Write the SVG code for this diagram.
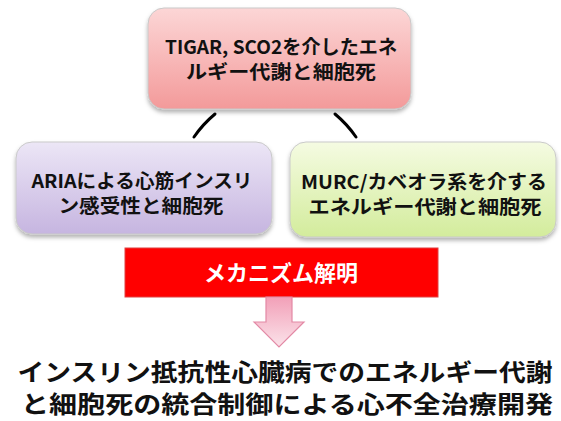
<svg xmlns="http://www.w3.org/2000/svg" width="561" height="421" viewBox="0 0 561 421">
<style>
.t{font-family:"Noto Sans CJK JP","Noto Sans",sans-serif;font-weight:bold;fill:#111;text-anchor:middle}
.bx{stroke:#c9c9c9;stroke-width:1}
.c{fill:none;stroke:#000;stroke-width:3;stroke-linecap:round}
</style>
<defs>
<linearGradient id="gp" x1="0" y1="0" x2="0" y2="1"><stop offset="0" stop-color="#fcd6d6"/><stop offset="1" stop-color="#f39a9a"/></linearGradient>
<linearGradient id="gv" x1="0" y1="0" x2="0" y2="1"><stop offset="0" stop-color="#ece6f6"/><stop offset="1" stop-color="#c6b5e0"/></linearGradient>
<linearGradient id="gg" x1="0" y1="0" x2="0" y2="1"><stop offset="0" stop-color="#f5fbe2"/><stop offset="1" stop-color="#d3ec9c"/></linearGradient>
<linearGradient id="ga" x1="0" y1="0" x2="0" y2="1"><stop offset="0" stop-color="#f2a0b8"/><stop offset="1" stop-color="#fbe3ea"/></linearGradient>
<filter id="sh" x="-10%" y="-10%" width="120%" height="130%"><feDropShadow dx="0" dy="3" stdDeviation="2" flood-color="#000" flood-opacity="0.3"/></filter>
</defs>
<g id="connectors">
<path class="c" d="M215,114 Q203,124 194,137"/>
<path class="c" d="M335,114 Q347,124 356,137"/>
</g>
<g id="top">
<rect class="bx" x="148" y="8" width="263" height="101" rx="16" fill="url(#gp)" filter="url(#sh)"/>
<text class="t" x="281" y="54" font-size="19" textLength="232" lengthAdjust="spacingAndGlyphs">TIGAR, SCO2を介したエネ</text>
<text class="t" x="281" y="79" font-size="19" textLength="190" lengthAdjust="spacingAndGlyphs">ルギー代謝と細胞死</text>
</g>
<g id="left">
<rect class="bx" x="16" y="142" width="256" height="92" rx="16" fill="url(#gv)" filter="url(#sh)"/>
<text class="t" x="142" y="188" font-size="19" textLength="221" lengthAdjust="spacingAndGlyphs">ARIAによる心筋インスリ</text>
<text class="t" x="141" y="213" font-size="19" textLength="165" lengthAdjust="spacingAndGlyphs">ン感受性と細胞死</text>
</g>
<g id="right">
<rect class="bx" x="290" y="142" width="266" height="95" rx="16" fill="url(#gg)" filter="url(#sh)"/>
<text class="t" x="424" y="189" font-size="19" textLength="246" lengthAdjust="spacingAndGlyphs">MURC/カベオラ系を介する</text>
<text class="t" x="425" y="214" font-size="19" textLength="233" lengthAdjust="spacingAndGlyphs">エネルギー代謝と細胞死</text>
</g>
<g id="mechanism">
<rect x="125" y="248" width="313" height="49" fill="#ff0000" stroke="#e04040" stroke-width="1"/>
<text class="t" x="281" y="281" font-size="22" style="fill:#fff">メカニズム解明</text>
</g>
<g id="arrow">
<path d="M266,297 L292,297 L292,322 L304,322 L279,347 L254,322 L266,322 Z" fill="url(#ga)" stroke="#e389a5" stroke-width="1.2"/>
</g>
<g id="goal">
<text class="t" x="285" y="381" font-size="24" textLength="535" lengthAdjust="spacingAndGlyphs">インスリン抵抗性心臓病でのエネルギー代謝</text>
<text class="t" x="287" y="413" font-size="24" textLength="532" lengthAdjust="spacingAndGlyphs">と細胞死の統合制御による心不全治療開発</text>
</g>
</svg>
